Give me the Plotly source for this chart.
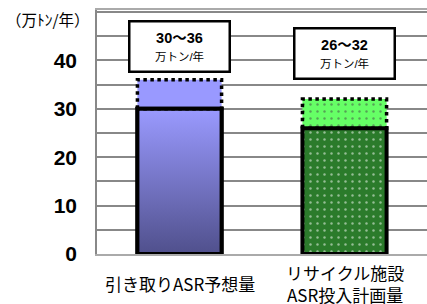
import plotly.graph_objects as go

categories = ["引き取りASR予想量", "リサイクル施設<br>ASR投入計画量"]
low_values = [30, 26]
high_values = [36, 32]
range_labels = ["30～36", "26～32"]
unit_label = "万トン/年"
y_title = "（万ﾄﾝ/年）"
y_ticks = [0, 10, 20, 30, 40]

x_pos = list(range(len(categories)))
half = 0.255
bar_w = 2 * half

fig = go.Figure()

# upper (range) segments
fig.add_trace(go.Bar(
    x=x_pos, y=[h - l for h, l in zip(high_values, low_values)], base=low_values,
    width=bar_w,
    marker=dict(color=["#9999ff", "#66ff66"], line=dict(width=0),
                pattern=dict(shape=["", "."], fgcolor=["#9999ff", "#ffffff"],
                             bgcolor=["#9999ff", "#66ff66"], size=7, solidity=0.1)),
    hoverinfo="skip", showlegend=False))

# lower segments
fig.add_trace(go.Bar(
    x=x_pos, y=low_values, width=bar_w,
    marker=dict(color=["rgba(0,0,0,0)", "#2b7b2b"], line=dict(width=4, color="black"),
                pattern=dict(shape=["", "."], fgcolor=["rgba(0,0,0,0)", "#55e055"],
                             bgcolor=["rgba(0,0,0,0)", "#2b7b2b"], size=7, solidity=0.1)),
    hoverinfo="skip", showlegend=False))

# gradient lower segment for first category
c = x_pos[0]
L = low_values[0]
fig.add_trace(go.Scatter(
    x=[c - half, c + half, c + half, c - half, c - half],
    y=[0, 0, L, L, 0], mode="lines", fill="toself",
    fillgradient=dict(type="vertical", colorscale=[[0, "#50508c"], [1, "#9a9aff"]]),
    line=dict(color="black", width=4), hoverinfo="skip", showlegend=False))

# dotted outlines of upper segments
xs, ys = [], []
for c, l, h in zip(x_pos, low_values, high_values):
    xs += [c - half, c - half, c + half, c + half, c - half, None]
    ys += [l, h, h, l, l, None]
fig.add_trace(go.Scatter(x=xs, y=ys, mode="lines",
                         line=dict(color="black", width=3.5, dash="dot"),
                         hoverinfo="skip", showlegend=False))

# range label boxes
box_y = [42.9, 41.4]
for c, txt, by in zip(x_pos, range_labels, box_y):
    fig.add_annotation(
        x=c, y=by, xref="x", yref="y", showarrow=False,
        text=f"<b>{txt}</b><br><span style='font-size:11.5px'>{unit_label}</span>",
        font=dict(family="Liberation Sans, Noto Sans CJK JP", size=14.5, color="black"),
        bgcolor="white", bordercolor="black", borderwidth=2.5, borderpad=1,
        width=96, height=46, align="center", valign="middle")

# category labels
for c, cat in zip(x_pos, categories):
    fig.add_annotation(
        x=c, y=-0.119, xref="x", yref="paper", showarrow=False, text=cat,
        font=dict(family="Noto Sans CJK JP", size=17, color="black"),
        xanchor="center", yanchor="middle", align="center")

# y title
fig.add_annotation(x=-0.282, y=0.963, xref="paper", yref="paper", showarrow=False,
                   text=y_title, xanchor="left", yanchor="middle",
                   font=dict(family="Noto Sans CJK JP", size=15.5, color="black"))

fig.update_layout(
    width=427, height=304, margin=dict(l=97, r=0, t=10, b=50),
    paper_bgcolor="white", plot_bgcolor="white", barmode="overlay",
    xaxis=dict(range=[-0.5, 1.5], showticklabels=False, showgrid=False, zeroline=False,
               showline=True, mirror=True, linecolor="#aaaaaa", linewidth=1.5,
               layer="below traces", fixedrange=True),
    yaxis=dict(range=[0, 50.4], tickmode="array", tickvals=y_ticks,
               ticktext=[str(v) for v in y_ticks],
               tickfont=dict(family="Liberation Sans", size=21, color="black", weight="bold"),
               ticks="", ticklabelstandoff=14,
               showgrid=True, gridcolor="#888888", gridwidth=1.5, zeroline=False,
               showline=True, linecolor="#888888", linewidth=1.5, layer="below traces",
               minor=dict(tickmode="linear", tick0=0, dtick=5, showgrid=True,
                          gridcolor="#888888", gridwidth=1.5),
               fixedrange=True),
)

fig.write_html("out.html", config={"displayModeBar": False},
               post_script="document.body.style.margin='0';")
